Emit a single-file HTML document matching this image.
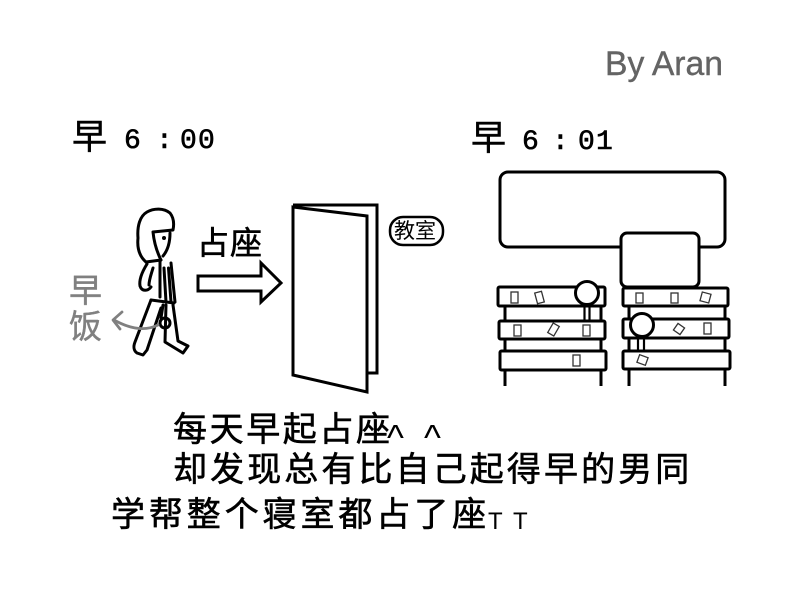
<!DOCTYPE html>
<html>
<head>
<meta charset="utf-8">
<style>
  html, body { margin: 0; padding: 0; background: #fff; }
  body { width: 800px; height: 600px; overflow: hidden; }
  svg { display: block; }
  .cjk { font-family: "Liberation Sans", "Noto Sans CJK SC", "WenQuanYi Zen Hei", sans-serif; }
  .mono { font-family: "Liberation Mono", "DejaVu Sans Mono", monospace; }
  .lat { font-family: "Liberation Sans", "DejaVu Sans", sans-serif; }
</style>
</head>
<body>
<svg width="800" height="600" viewBox="0 0 800 600" xmlns="http://www.w3.org/2000/svg">
  <rect x="0" y="0" width="800" height="600" fill="#fff"/>

  <!-- By Aran -->
  <text x="605" y="75" class="lat" font-size="34" fill="#646464" stroke="#646464" stroke-width="0.4" textLength="118" lengthAdjust="spacingAndGlyphs">By Aran</text>

  <!-- Left time label -->
  <text x="72" y="149" class="cjk" font-size="35" fill="#000" stroke="#000" stroke-width="0.5">早</text>
  <g class="mono" font-size="28" fill="#000" stroke="#000" stroke-width="0.6">
    <text x="124" y="148">6</text>
    <text x="156" y="148">:</text>
    <text x="180" y="148">0</text>
    <text x="198" y="148">0</text>
  </g>

  <!-- Right time label -->
  <text x="471" y="150" class="cjk" font-size="35" fill="#000" stroke="#000" stroke-width="0.5">早</text>
  <g class="mono" font-size="28" fill="#000" stroke="#000" stroke-width="0.6">
    <text x="522" y="149">6</text>
    <text x="552" y="149">:</text>
    <text x="578" y="149">0</text>
    <text x="596" y="149">1</text>
  </g>

  <!-- Person -->
  <g fill="none" stroke="#000" stroke-width="3" stroke-linecap="round" stroke-linejoin="round">
    <path d="M146,262 C139,256 137,248 138,238 C137,226 140,216 147,212 C154,208 164,208 170,213 C174,218 174,225 173,230 L153,232 C154,242 157,252 161,260"/>
    <path d="M146,262 L161,260"/>
    <path d="M170,233 C170,242 168,250 163,256"/>
    <path d="M147,264 C142,272 139,280 140,286 C142,292 148,291 151,287"/>
    <path d="M153,268 C151,275 149,280 149,285"/>
    <path d="M160,262 L160,297"/>
    <path d="M171,263 L175,302"/>
    <path d="M164,268 L166,302"/>
    <path d="M168.5,268 L171,302"/>
    <path d="M151,300 L174,303"/>
    <path d="M151,300 L135,342 C133,347 134,351 137,353 L143,355 L147,350 L161,308"/>
    <path d="M166,305 L165,342 L183,353 L188,346 L178,341 L173,305"/>
    <path d="M163,305 L161,318"/>
    <circle cx="165" cy="323" r="5"/>
  </g>
  <circle cx="164" cy="238" r="2" fill="#000"/>

  <!-- 早饭 + gray arrow -->
  <text x="69" y="302" class="cjk" font-size="33" fill="#808080" stroke="#808080" stroke-width="0.4">早</text>
  <text x="69" y="338" class="cjk" font-size="33" fill="#808080" stroke="#808080" stroke-width="0.4">饭</text>
  <g fill="none" stroke="#808080" stroke-width="2.8" stroke-linecap="round" stroke-linejoin="round">
    <path d="M158,325 C146,331 132,330 114,320"/>
    <path d="M122,312 L113,320 L120,329"/>
  </g>

  <!-- 占座 + arrow -->
  <text x="197" y="254" class="cjk" font-size="32" fill="#000" stroke="#000" stroke-width="0.6" letter-spacing="1">占座</text>
  <path d="M198,276 L261,276 L261,263 L281,283 L261,302 L261,291 L198,291 Z" fill="#fff" stroke="#000" stroke-width="3" stroke-linejoin="miter"/>

  <!-- Door -->
  <path d="M293,205 L377,205 L377,373 L366,373" fill="none" stroke="#000" stroke-width="3"/>
  <path d="M293,207 L367,216 L367,392 L293,375 Z" fill="#fff" stroke="#000" stroke-width="3" stroke-linejoin="miter"/>

  <!-- 教室 pill -->
  <rect x="390" y="217" width="53" height="28" rx="13" fill="#fff" stroke="#000" stroke-width="2.5"/>
  <text x="394" y="238" class="cjk" font-size="21" fill="#000">教室</text>

  <!-- Blackboard & podium -->
  <rect x="500" y="172" width="225" height="75" rx="8" fill="#fff" stroke="#000" stroke-width="3"/>
  <rect x="621" y="233" width="78" height="54" rx="6" fill="#fff" stroke="#000" stroke-width="3"/>

  <!-- Desks: legs -->
  <g stroke="#000" stroke-width="3" stroke-linecap="butt">
    <line x1="505" y1="300" x2="505" y2="386"/>
    <line x1="601" y1="300" x2="601" y2="386"/>
    <line x1="629" y1="300" x2="629" y2="386"/>
    <line x1="725" y1="300" x2="725" y2="386"/>
  </g>
  <!-- Desks: rows -->
  <g fill="#fff" stroke="#000" stroke-width="3" stroke-linejoin="round">
    <rect x="498" y="287" width="107" height="19" rx="1.5"/>
    <rect x="499" y="321" width="106" height="18" rx="1.5"/>
    <rect x="500" y="351" width="106" height="19" rx="1.5"/>
    <rect x="623" y="288" width="105" height="18" rx="1.5"/>
    <rect x="623" y="319" width="106" height="19" rx="1.5"/>
    <rect x="623" y="351" width="107" height="18" rx="1.5"/>
  </g>
  <line x1="623" y1="288" x2="699" y2="288" stroke="#000" stroke-width="3"/>

  <!-- Papers -->
  <g fill="#fff" stroke="#333" stroke-width="1.3">
    <rect x="511" y="292" width="7" height="11"/>
    <rect x="536" y="292" width="7" height="11" transform="rotate(-15 539.5 297.5)"/>
    <rect x="514" y="325" width="7" height="11"/>
    <rect x="550" y="324" width="7" height="11" transform="rotate(30 553.5 329.5)"/>
    <rect x="583" y="325" width="7" height="11"/>
    <rect x="573" y="355" width="7" height="11"/>
    <rect x="636" y="293" width="7" height="10"/>
    <rect x="671" y="293" width="7" height="10"/>
    <rect x="701" y="293" width="9" height="9" transform="rotate(15 705.5 297.5)"/>
    <rect x="675" y="325" width="8" height="8" transform="rotate(35 679 329)"/>
    <rect x="704" y="323" width="7" height="11"/>
    <rect x="638" y="356" width="9" height="8" transform="rotate(20 642.5 360)"/>
  </g>

  <!-- Heads -->
  <g fill="none" stroke="#000" stroke-width="2.2">
    <line x1="584.5" y1="304" x2="584.5" y2="321"/>
    <line x1="589.5" y1="304" x2="589.5" y2="321"/>
    <line x1="638" y1="336" x2="638" y2="351"/>
    <line x1="644" y1="336" x2="644" y2="351"/>
  </g>
  <circle cx="587" cy="293" r="11.5" fill="#fff" stroke="#000" stroke-width="3"/>
  <circle cx="642" cy="325" r="11.5" fill="#fff" stroke="#000" stroke-width="3"/>

  <!-- Bottom text -->
  <g class="cjk" font-size="34" fill="#000" stroke="#000" stroke-width="0.6">
    <text x="173" y="441" letter-spacing="2.6">每天早起占座</text>
    <text x="173" y="481" letter-spacing="3.1">却发现总有比自己起得早的男同</text>
    <text x="111" y="526" letter-spacing="3.9">学帮整个寝室都占了座</text>
  </g>
  <text x="387" y="450" class="lat" font-size="36" fill="#000">^</text>
  <text x="424" y="450" class="lat" font-size="36" fill="#000">^</text>
  <text x="488" y="529" class="lat" font-size="24" fill="#000">T</text>
  <text x="513" y="529" class="lat" font-size="24" fill="#000">T</text>
</svg>
</body>
</html>
